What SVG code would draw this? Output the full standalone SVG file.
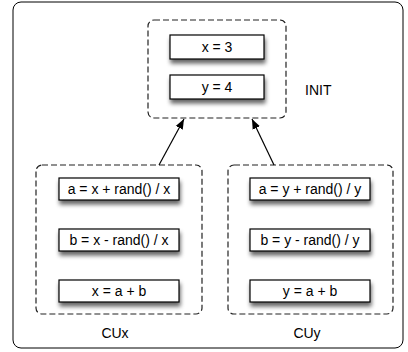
<svg xmlns="http://www.w3.org/2000/svg" width="408" height="352" viewBox="0 0 408 352">
<defs>
<filter id="sh" x="-20%" y="-30%" width="140%" height="190%">
<feGaussianBlur in="SourceAlpha" stdDeviation="2"/>
<feOffset dx="1" dy="4" result="b"/>
<feComponentTransfer><feFuncA type="linear" slope="0.6"/></feComponentTransfer>
<feMerge><feMergeNode/><feMergeNode in="SourceGraphic"/></feMerge>
</filter>
<marker id="ah" viewBox="0 0 10 10" refX="10" refY="5" markerWidth="10" markerHeight="10" markerUnits="userSpaceOnUse" orient="auto">
<path d="M0,1 L10,5 L0,9 Z" fill="#000"/>
</marker>
</defs>
<style>
.box{fill:#fff;stroke:#000;stroke-width:1.2}
.grp{fill:none;stroke:#222;stroke-width:1.2;stroke-dasharray:6,3}
text{font-family:"Liberation Sans",Arial,sans-serif;font-size:14px;fill:#000}
.c{text-anchor:middle}
.conn{stroke:#000;stroke-width:1.2;fill:none;marker-end:url(#ah)}
</style>
<rect x="13" y="2" width="390" height="346" rx="8" fill="#fff" stroke="#000" stroke-width="1"/>
<g id="INIT">
<rect class="grp" x="148" y="20" width="138" height="98" rx="6"/>
<g filter="url(#sh)"><rect class="box" x="170" y="35" width="94" height="24"/><rect class="box" x="170" y="75" width="94" height="24"/></g>
<text class="c" x="217" y="52">x = 3</text>
<text class="c" x="217" y="92">y = 4</text>
<text x="305" y="95">INIT</text>
</g>
<g id="CUx">
<rect class="grp" x="36" y="165" width="166" height="149" rx="6"/>
<g filter="url(#sh)"><rect class="box" x="59" y="178" width="120" height="22"/><rect class="box" x="59" y="229" width="120" height="22"/><rect class="box" x="59" y="280" width="120" height="22"/></g>
<text class="c" x="119" y="194">a = x + rand() / x</text>
<text class="c" x="119" y="245">b = x - rand() / x</text>
<text class="c" x="119" y="296">x = a + b</text>
<text class="c" x="115" y="338">CUx</text>
</g>
<g id="CUy">
<rect class="grp" x="228" y="165" width="165" height="149" rx="6"/>
<g filter="url(#sh)"><rect class="box" x="250" y="178" width="120" height="22"/><rect class="box" x="250" y="229" width="120" height="22"/><rect class="box" x="250" y="280" width="120" height="22"/></g>
<text class="c" x="310" y="194">a = y + rand() / y</text>
<text class="c" x="310" y="245">b = y - rand() / y</text>
<text class="c" x="310" y="296">y = a + b</text>
<text class="c" x="307" y="338">CUy</text>
</g>
<g id="connectors">
<line class="conn" x1="159" y1="165" x2="184" y2="119"/>
<line class="conn" x1="274" y1="165" x2="252" y2="119"/>
</g>
</svg>
